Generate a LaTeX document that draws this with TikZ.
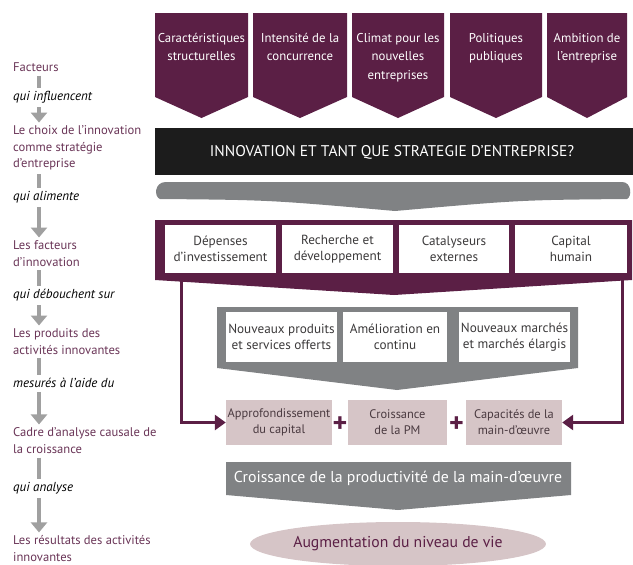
\documentclass[tikz,border=0pt]{standalone}
\usepackage{fontspec}
\setmainfont{PT Sans}
\usetikzlibrary{arrows.meta,shapes.geometric,calc}
\definecolor{maroon}{HTML}{5B1F45}
\definecolor{labcol}{HTML}{6A3557}
\definecolor{band}{HTML}{808284}
\definecolor{lgray}{HTML}{A0A0A0}
\definecolor{pinkb}{HTML}{D6C5C7}
\definecolor{blackb}{HTML}{1C1C1C}
\definecolor{boxtxt}{HTML}{3C3A3B}
\definecolor{pinktxt}{HTML}{4A3A40}
\begin{document}
\begin{tikzpicture}[x=1pt,y=-1pt,
  lab/.style={text=labcol,font=\fontsize{12.6}{16.5}\selectfont,align=left,anchor=west,inner sep=0pt},
  conn/.style={font=\fontsize{13}{14}\selectfont\itshape,anchor=west,inner sep=0pt},
  gbar/.style={draw=lgray,line width=4pt,shorten <=4pt,shorten >=3pt},
  garr/.style={gbar,-{Triangle[width=16pt,length=10pt]}},
  pent/.style={fill=maroon},
  ptxt/.style={text=white,font=\fontsize{12.8}{18.5}\selectfont,align=center,anchor=north,inner sep=0pt},
  wbox/.style={fill=white,inner sep=0pt,text=boxtxt,font=\fontsize{13.2}{16}\selectfont,align=center},
  pbox/.style={fill=pinkb,inner sep=0pt,text=pinktxt,font=\fontsize{12.4}{16}\selectfont,align=center,minimum height=45pt},
  marr/.style={draw=maroon,line width=3pt,-{Triangle[width=15pt,length=11pt]}},
  plus/.style={text=maroon,font=\fontsize{28}{28}\selectfont\bfseries,inner sep=0pt}
]
\useasboundingbox (0,0) rectangle (633,565);
\coordinate (col) at (39,0);
% left column
\node[lab] (l1) at (13,67) {Facteurs};
\node[conn] (q1) at (13,97) {qui influencent};
\node[lab] (l2) at (13,148) {Le choix de l’innovation\\comme stratégie\\d’entreprise};
\node[conn] (q2) at (13,197) {qui alimente};
\node[lab] (l3) at (13,253.5) {Les facteurs\\d’innovation};
\node[conn] (q3) at (13,295) {qui débouchent sur};
\node[lab] (l4) at (13,341.5) {Les produits des\\activités innovantes};
\node[conn] (q4) at (13,383) {mesurés à l’aide du};
\node[lab] (l5) at (13,440.5) {Cadre d’analyse causale de\\la croissance};
\node[conn] (q5) at (13,488) {qui analyse};
\node[lab] (l6) at (13,548.5) {Les résultats des activités\\innovantes};
\foreach \a/\b in {l1/q1,l2/q2,l3/q3,l4/q4,l5/q5}{
  \draw[gbar] (\a.south -| col) -- (\b.north -| col);
}
\foreach \a/\b in {q1/l2,q2/l3,q3/l4,q4/l5,q5/l6}{
  \draw[garr] (\a.south -| col) -- (\b.north -| col);
}
% top pentagons
\foreach \a/\b/\t [count=\i] in {155/248/{Caractéristiques\\structurelles},253/347/{Intensité de la\\concurrence},352/444/{Climat pour les\\nouvelles\\entreprises},450/542/{Politiques\\publiques},547/627/{Ambition de\\l’entreprise}}{
  \fill[pent] (\a,13) -- (\b,13) -- (\b,97) -- ({(\a+\b)/2},118) -- (\a,97) -- cycle;
  \node[ptxt] (p\i) at ({(\a+\b)/2},33) {\t};
}
% black bar
\fill[blackb] (155,128) rectangle (633,175);
\node[text=white,font=\fontsize{15.5}{16}\selectfont,inner sep=0pt] (title) at (392,152) {INNOVATION ET TANT QUE STRATEGIE D’ENTREPRISE?};
% gray curved band
\fill[band] (166,182) -- (622,182) .. controls (632,182) and (632,197) .. (627,199)
  .. controls (520,200) .. (395,211) .. controls (270,200) .. (160,199)
  .. controls (154,197) and (154,182) .. (166,182) -- cycle;
% maroon factor bar
\fill[maroon] (155,220) -- (632,220) -- (632,280) -- (394,295) -- (155,280) -- cycle;
\node[wbox,minimum width=111pt,minimum height=48pt] (f1) at (220.5,249) {Dépenses\\d’investissement};
\node[wbox,minimum width=111pt,minimum height=48pt] (f2) at (337.5,249) {Recherche et\\développement};
\node[wbox,minimum width=110pt,minimum height=48pt] (f3) at (454,249) {Catalyseurs\\externes};
\node[wbox,minimum width=112pt,minimum height=48pt] (f4) at (571,249) {Capital\\humain};
% gray outputs box
\fill[band] (217,307) -- (578,307) -- (578,368) -- (397,390) -- (217,368) -- cycle;
\node[wbox,minimum width=111pt,minimum height=50pt] (o1) at (281.5,337) {Nouveaux produits\\et services offerts};
\node[wbox,minimum width=104pt,minimum height=50pt] (o2) at (395,337) {Amélioration en\\continu};
\node[wbox,minimum width=111pt,minimum height=50pt] (o3) at (514.5,337) {Nouveaux marchés\\et marchés élargis};
% pink boxes
\node[pbox,minimum width=106pt] (c1) at (279,422.5) {Approfondissement\\du capital};
\node[pbox,minimum width=99pt] (c2) at (397.5,422.5) {Croissance\\de la PM};
\node[pbox,minimum width=96pt] (c3) at (514,422.5) {Capacités de la\\main-d’œuvre};
\node[plus] (pl1) at ($(c1.east)!0.5!(c2.west)+(0,2)$) {+};
\node[plus] (pl2) at ($(c2.east)!0.5!(c3.west)+(0,2)$) {+};
% maroon arrows
\coordinate (ml) at (181,279);
\coordinate (mr) at (622,279);
\draw[marr] (ml) |- (c1.west);
\draw[marr] (mr) |- (c3.east);
% productivity pentagon
\fill[band] (226,462) -- (571,462) -- (571,495) -- (398,510) -- (226,495) -- cycle;
\node[text=white,font=\fontsize{15.8}{16}\selectfont,inner sep=0pt] (prod) at (398,478) {Croissance de la productivité de la main-d’œuvre};
% ellipse
\node[ellipse,fill=pinkb,minimum width=244pt,minimum height=44pt,inner sep=0pt,text=maroon,font=\fontsize{15.7}{16}\selectfont] (niv) at (398,544) {Augmentation du niveau de vie};
\end{tikzpicture}
\end{document}
